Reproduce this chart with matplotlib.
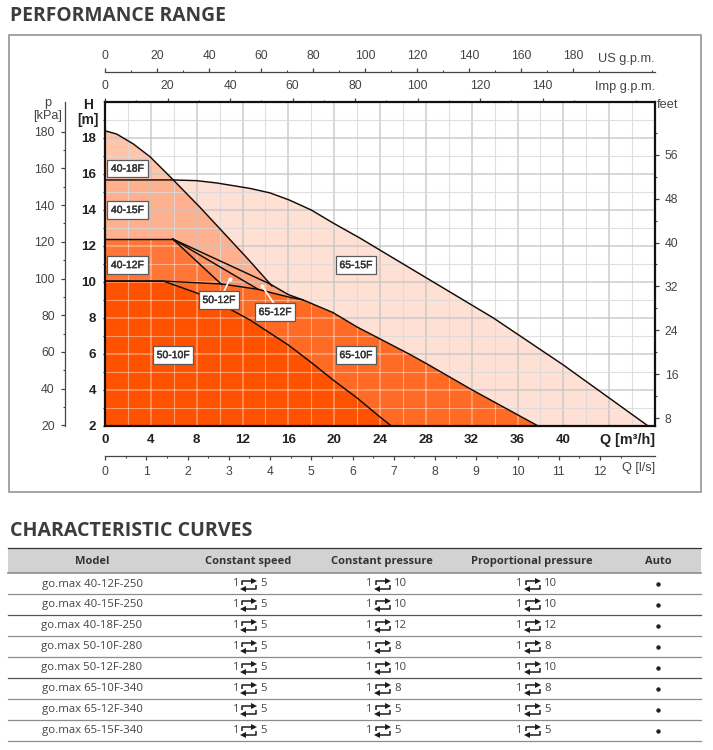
import os

import matplotlib
matplotlib.use("Agg")
import matplotlib.font_manager as fm
import matplotlib.patheffects as pe
import matplotlib.pyplot as plt
import numpy as np

plt.rcParams['font.family'] = ['Liberation Sans', 'DejaVu Sans']

# pump envelopes, Q [m3/h] / H [m]
q_40_18 = [0, 1.02, 2.47, 3.93, 5.38, 5.96, 8.29, 12.5, 14.57]
h_40_18 = [18.4, 18.22, 17.67, 16.96, 16.04, 15.67, 14.15, 11.26, 9.78]
q_65_15 = [0, 5.96, 8, 9.77, 12.65, 14.4, 16.1, 18, 19.9, 22.25, 25.5, 33.9, 40, 47.4]
h_65_15 = [15.67, 15.67, 15.63, 15.5, 15.2, 14.95, 14.55, 14, 13.28, 12.44, 11.2, 8, 5.39, 2]
q_40_12 = [0, 5.9]
h_40_12 = [12.39, 12.39]
q_upper = [5.9, 14.4, 16, 17.3]
h_upper = [12.39, 9.89, 9.3, 9]
q_65_12 = [5.9, 13.35]
h_65_12 = [12.39, 9.6]
q_50_12 = [5.9, 10.2]
h_50_12 = [12.39, 9.85]
q_65_10 = [0, 5.1, 10.2, 13.3, 16, 17.3, 19.9, 22, 26.6, 28.1, 32, 37.8]
h_65_10 = [10.05, 10.05, 9.89, 9.6, 9.17, 9, 8.3, 7.5, 5.98, 5.45, 4.02, 2]
q_50_10 = [0, 5.1, 8, 10.6, 12.65, 16, 18.06, 19.9, 22, 24, 25]
h_50_10 = [10.05, 10.05, 9.39, 8.6, 7.89, 6.5, 5.5, 4.56, 3.56, 2.5, 2]

labels = ["40-18F", "40-15F", "40-12F", "50-10F", "50-12F", "65-12F", "65-15F", "65-10F"]
label_q = [1.96, 1.96, 1.96, 5.95, 9.95, 14.85, 21.9, 21.9]
label_h = [16.3, 14, 10.94, 5.94, 9, 8.33, 10.94, 5.94]

us_ticks = np.arange(0, 181, 20)
imp_ticks = np.arange(0, 141, 20)
feet_ticks = np.arange(8, 57, 8)
kpa_ticks = np.arange(20, 181, 20)
ls_ticks = np.arange(0, 13)
q_ticks = np.arange(0, 41, 4)
h_ticks = np.arange(2, 19, 2)

columns = ["Model", "Constant speed", "Constant pressure", "Proportional pressure", "Auto"]
models = ["go.max 40-12F-250", "go.max 40-15F-250", "go.max 40-18F-250", "go.max 50-10F-280",
          "go.max 50-12F-280", "go.max 65-10F-340", "go.max 65-12F-340", "go.max 65-15F-340"]
speed_max = [5, 5, 5, 5, 5, 5, 5, 5]
pressure_max = [10, 10, 12, 8, 10, 8, 5, 5]
proportional_max = [10, 10, 12, 8, 10, 8, 5, 5]

system_fonts = {os.path.basename(f): f for f in fm.findSystemFonts()}


# some families also ship condensed cuts, so pick the file itself when it is there
def pick_font(size, files, family, weight='normal'):
    for name in files:
        if name in system_fonts:
            return fm.FontProperties(fname=system_fonts[name], size=size)
    return fm.FontProperties(family=family, weight=weight, size=size)


def arial_bold(size):
    return pick_font(size, ['LiberationSans-Bold.ttf'], 'Liberation Sans', 'bold')


def head_bold(size):
    return pick_font(size, ['OpenSans-SemiBold.ttf', 'OpenSans-Bold.ttf'], 'Open Sans', 'bold')


def body_font(size):
    return pick_font(size, ['OpenSans-Regular.ttf'], 'Open Sans')


W, H = 713, 750
fig = plt.figure(figsize=(W / 100, H / 100), dpi=100, facecolor='white')

# page layer in pixel coordinates: frame, headings, table
page = fig.add_axes([0, 0, 1, 1])
page.set_xlim(0, W)
page.set_ylim(H, 0)
page.axis('off')

page.text(10, 16, "PERFORMANCE RANGE", fontproperties=head_bold(13.9), color='#3c3c3c', va='center')
page.text(10, 531, "CHARACTERISTIC CURVES", fontproperties=head_bold(14.1), color='#3c3c3c', va='center')
page.add_patch(plt.Rectangle((8.5, 34.5), 692.5, 457, fc='none', ec='#8c8c8c', lw=1.1))

# table
page.add_patch(plt.Rectangle((8, 548), 693, 25, fc='#d2d2d2', ec='none'))
page.plot([8, 701], [548, 548], color='#333333', lw=0.9)
page.plot([8, 701], [573, 573], color='#8c8c8c', lw=1.2)
col_x = [92, 248, 382, 532, 658]
one_x = [0, 236, 369, 519]
for x, name in zip(col_x, columns):
    page.text(x, 561.5, name, ha='center', va='center', fontproperties=head_bold(8), color='#333333')


def swap_icon(cx, y):
    page.plot([cx - 6.5, cx - 6.5, cx + 5], [y + 0.5, y - 3.5, y - 3.5], color='#1c1c1c', lw=1.1, solid_capstyle='butt')
    page.plot([cx + 6], [y - 3.5], marker='>', ms=4, color='#1c1c1c', mew=0)
    page.plot([cx + 8, cx + 8, cx - 4], [y + 0.5, y + 4.5, y + 4.5], color='#1c1c1c', lw=1.1, solid_capstyle='butt')
    page.plot([cx - 5], [y + 4.5], marker='<', ms=4, color='#1c1c1c', mew=0)


def range_cell(col, y, top):
    page.text(one_x[col], y, "1", ha='center', va='center', fontproperties=body_font(8.2), color='#444444')
    swap_icon(col_x[col], y)
    page.text(col_x[col] + 12, y, str(top), ha='left', va='center', fontproperties=body_font(8.2), color='#444444')


row_step = 20.96
for i, model in enumerate(models):
    y = 584 + i * row_step
    page.text(col_x[0], y, model, ha='center', va='center', fontproperties=body_font(8.2), color='#444444')
    range_cell(1, y, speed_max[i])
    range_cell(2, y, pressure_max[i])
    range_cell(3, y, proportional_max[i])
    page.plot([col_x[4]], [y], marker='o', ms=3.2, color='#222222', mew=0)
    page.plot([8, 701], [y + 10.2, y + 10.2], color='#555555' if i in (1, 4) else '#8c8c8c', lw=0.9)

# main chart, 105..655 x 102..426 px
ax = fig.add_axes([105 / W, 1 - 426 / H, 550 / W, 324 / H], zorder=3)
ax.set_xlim(0, 48)
ax.set_ylim(2, 20)
ax.patch.set_alpha(0)


def area(qs, hs, color, z):
    ax.fill_between(qs, hs, 2, color=color, lw=0, zorder=z)


def grid_lines(strong_color, weak_color, alpha, z):
    drawn = []
    for q in np.arange(2, 48, 2):
        strong = q % 4 == 0
        drawn.append(ax.axvline(q, color=strong_color if strong else weak_color, lw=1.1 if strong else 0.8, alpha=alpha, zorder=z))
    for h in np.arange(3, 20, 1):
        strong = h % 2 == 0
        drawn.append(ax.axhline(h, color=strong_color if strong else weak_color, lw=1.1 if strong else 0.8, alpha=alpha, zorder=z))
    return drawn


# pale zones first, grey grid shows through on them
area(q_65_15, h_65_15, '#FFE0D4', 1)
area(q_40_18, h_40_18, '#FFC4AA', 1.02)
q_40_15 = [0] + q_40_18[5:]
h_40_15 = [15.67] + h_40_18[5:]
area(q_40_15, h_40_15, '#FFB08E', 1.04)
area(q_upper, h_upper, '#FFA47C', 1.06)
area(q_65_12, h_65_12, '#FF8F5E', 1.08)
grid_lines('#c4c4c4', '#dadada', 0.85, 1.3)

# saturated zones, their grid is a pale tint instead
area(q_50_12, h_50_12, '#FF7638', 1.5)
area(q_40_12, h_40_12, '#FF7638', 1.5)
area(q_65_10, h_65_10, '#FF6A24', 1.6)
area(q_50_10, h_50_10, '#FF5200', 1.7)
dark_q = q_40_12 + q_50_12[1:] + q_65_10[3:] + [0]
dark_h = h_40_12 + h_50_12[1:] + h_65_10[3:] + [2]
dark_zone = plt.Polygon(np.column_stack([dark_q, dark_h]), closed=True, transform=ax.transData, fc='none', ec='none')
ax.add_patch(dark_zone)
for gl in grid_lines('white', 'white', 0.42, 2):
    gl.set_clip_path(dark_zone)

line_kw = dict(color='#140c06', lw=1.05, zorder=4)
ax.plot(q_40_18, h_40_18, **line_kw)
ax.plot(q_65_15, h_65_15, **line_kw)
ax.plot(q_40_12, h_40_12, **line_kw)
ax.plot(q_upper, h_upper, **line_kw)
ax.plot(q_65_12, h_65_12, **line_kw)
ax.plot(q_50_12, h_50_12, **line_kw)
ax.plot(q_65_10, h_65_10, **line_kw)
ax.plot(q_50_10, h_50_10, **line_kw)

# white leaders
ax.plot([10.9, 10.4], [10.17, 9.5], color='white', lw=1.2, zorder=5)
ax.plot([10.9], [10.17], 'o', color='white', ms=3, mew=0, zorder=5)
ax.plot([13.7, 14.7], [9.78, 8.85], color='white', lw=1.2, zorder=5)
ax.plot([13.7], [9.78], 'o', color='white', ms=3, mew=0, zorder=5)

for name, q, h in zip(labels, label_q, label_h):
    ax.text(q, h, name, ha='center', va='center', fontsize=7.5, color='#333333', zorder=6,
            path_effects=[pe.withStroke(linewidth=0.3, foreground='#333333')],
            bbox=dict(boxstyle='square,pad=0.36', fc='white', ec='#5a5a5a', lw=0.9))

for s in ax.spines.values():
    s.set_linewidth(1.6)
    s.set_color('#111111')
    s.set_zorder(7)
ax.set_xticks(q_ticks)
ax.set_yticks(h_ticks)
ax.set_yticks(np.arange(3, 20, 2), minor=True)
ax.tick_params(axis='x', length=0, pad=6)
ax.tick_params(axis='y', which='major', length=1.5, pad=5)
ax.tick_params(axis='y', which='minor', length=1.5)
for t in ax.get_xticklabels() + ax.get_yticklabels():
    t.set_fontproperties(arial_bold(9.6))
    t.set_color('#222222')


def style_axis(axis):
    axis.tick_params(which='major', length=3, width=0.9, labelsize=8.7, labelcolor='#444444', color='#444444', pad=4)
    axis.tick_params(which='minor', length=1.5, width=0.8, color='#444444')


us = ax.secondary_xaxis(1 + 30 / 324, functions=(lambda q: q * 4.403, lambda g: g / 4.403))
us.set_xticks(us_ticks)
us.set_xticks(np.arange(10, 211, 20), minor=True)
style_axis(us)
us.spines['top'].set_color('#444444')
us.spines['top'].set_linewidth(0.9)

imp = ax.secondary_xaxis('top', functions=(lambda q: q * 3.666, lambda g: g / 3.666))
imp.set_xticks(imp_ticks)
imp.set_xticks(np.arange(10, 176, 20), minor=True)
style_axis(imp)
imp.spines['top'].set_visible(False)

ls = ax.secondary_xaxis(-30 / 324, functions=(lambda q: q / 3.6, lambda v: v * 3.6))
ls.set_xticks(ls_ticks)
ls.set_xticks(np.arange(0.5, 13.4, 1), minor=True)
style_axis(ls)
ls.spines['bottom'].set_color('#444444')
ls.spines['bottom'].set_linewidth(0.9)

kpa = ax.secondary_yaxis(-40.5 / 550, functions=(lambda h: h * 9.81, lambda p: p / 9.81))
kpa.set_yticks(kpa_ticks)
kpa.set_yticks(np.arange(30, 190, 20), minor=True)
style_axis(kpa)
kpa.spines['left'].set_color('#444444')
kpa.spines['left'].set_linewidth(0.9)

feet = ax.secondary_yaxis('right', functions=(lambda h: h * 3.281, lambda f: f / 3.281))
feet.set_yticks(feet_ticks)
feet.set_yticks(np.arange(12, 64, 8), minor=True)
style_axis(feet)
feet.spines['right'].set_visible(False)

# axis captions
cap = dict(va='center', color='#444444', fontsize=9.2, zorder=8)
page.text(655, 59, "US g.p.m.", ha='right', **cap)
page.text(655, 87, "Imp g.p.m.", ha='right', **cap)
page.text(657, 105, "feet", ha='left', **cap)
page.text(655, 468, "Q [l/s]", ha='right', **cap)
page.text(48, 103, "p", ha='center', **cap)
page.text(48, 116, "[kPa]", ha='center', **cap)
page.text(88, 105, "H", ha='center', va='center', fontproperties=arial_bold(10), color='#222222')
page.text(88, 120, "[m]", ha='center', va='center', fontproperties=arial_bold(10), color='#222222')
page.text(655, 440, "Q [m³/h]", ha='right', va='center', fontproperties=arial_bold(10.4), color='#222222')

fig.savefig("out.png", dpi=100)
